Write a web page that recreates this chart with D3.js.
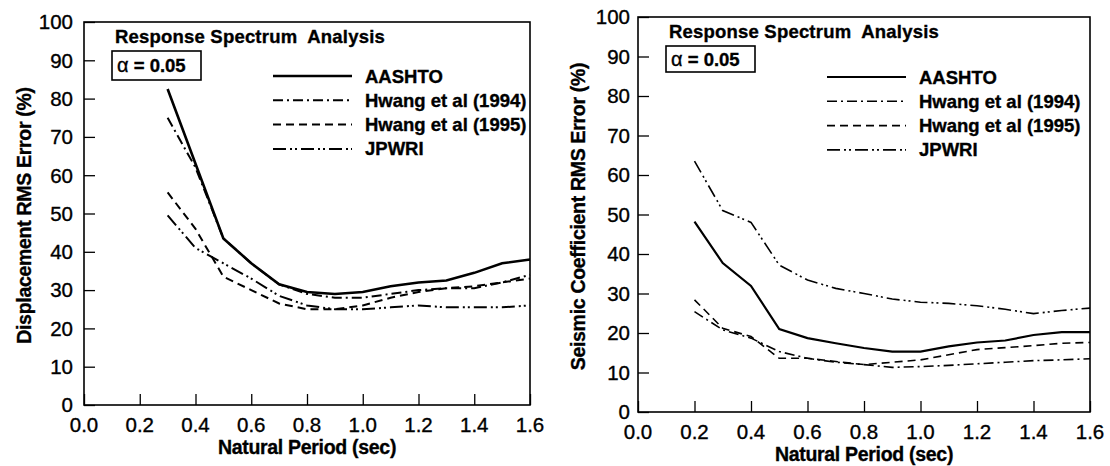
<!DOCTYPE html>
<html>
<head>
<meta charset="utf-8">
<script src="https://cdn.jsdelivr.net/npm/d3@7"></script>
<style>
  body { margin: 0; background: #fff; }
  svg { display: block; font-family: "Liberation Sans", Arial, sans-serif; }
  text { stroke: #000; stroke-width: 0.35px; }
</style>
</head>
<body>
<svg id="chart" width="1110" height="466"></svg>
<script>
const seriesNames = ["AASHTO", "Hwang et al (1994)", "Hwang et al (1995)", "JPWRI"];
const xTicks = [0.0, 0.2, 0.4, 0.6, 0.8, 1.0, 1.2, 1.4, 1.6];
const yTicks = [0, 10, 20, 30, 40, 50, 60, 70, 80, 90, 100];

// displacement panel
const periodsDisp = [0.3, 0.4, 0.5, 0.6, 0.7, 0.8, 0.9, 1.0, 1.1, 1.2, 1.3, 1.4, 1.5, 1.6];
const dispAashto = [82.5, 63, 43.5, 37, 31.5, 29.5, 29, 29.5, 31, 32, 32.5, 34.5, 37, 38];
const dispHwang94 = [75, 62, 43.5, 37, 31.5, 29, 28, 28, 29, 30, 30.5, 30.5, 32, 34];
const dispHwang95 = [55.5, 46, 33.5, 30, 26.5, 25, 25, 26, 28, 29.5, 30.5, 31, 32, 33];
const dispJpwri = [49.5, 41, 37, 33, 28.5, 26, 25, 25, 25.5, 26, 25.5, 25.5, 25.5, 26];

// seismic coefficient panel
const periodsSeis = [0.2, 0.3, 0.4, 0.5, 0.6, 0.7, 0.8, 0.9, 1.0, 1.1, 1.2, 1.3, 1.4, 1.5, 1.6];
const seisAashto = [48.2, 37.7, 31.9, 21, 18.7, 17.4, 16.2, 15.3, 15.3, 16.6, 17.6, 18.1, 19.5, 20.2, 20.2];
const seisHwang94 = [25.4, 20.8, 18.7, 15.3, 13.6, 12.6, 12, 11.3, 11.5, 11.8, 12.2, 12.6, 13, 13.2, 13.5];
const seisHwang95 = [28.4, 21.2, 19.1, 13.6, 13.6, 12.8, 12, 12.6, 13.2, 14.5, 15.8, 16.3, 16.8, 17.4, 17.6];
const seisJpwri = [63.5, 51, 48, 37.2, 33.4, 31.3, 30, 28.6, 27.8, 27.5, 26.9, 26, 24.9, 25.7, 26.3];

const dashes = [null, "10,4,2,4", "8,5", "13,4,2,3,2,4"];

const svg = d3.select("#chart");

function drawPanel(opts) {
    const { left, right, top, bottom, periods, series, yLabel, lineWidth, labelGap, legendTop, boxH } = opts;

    const x = d3.scaleLinear().domain([0, 1.6]).range([left, right]);
    const y = d3.scaleLinear().domain([0, 100]).range([bottom, top]);

    const g = svg.append("g");

    // frame
    g.append("rect")
        .attr("x", left)
        .attr("y", top)
        .attr("width", right - left)
        .attr("height", bottom - top)
        .attr("fill", "none")
        .attr("stroke", "#000")
        .attr("stroke-width", 1.6);

    // inward ticks
    const yAxis = g.append("g")
        .attr("transform", `translate(${left},0)`)
        .call(d3.axisRight(y).tickValues(yTicks).tickSize(11).tickFormat(""));
    yAxis.select(".domain").remove();
    yAxis.selectAll("line").attr("stroke-width", 1.3);

    const xAxis = g.append("g")
        .attr("transform", `translate(0,${bottom})`)
        .call(d3.axisTop(x).tickValues(xTicks).tickSize(11).tickFormat(""));
    xAxis.select(".domain").remove();
    xAxis.selectAll("line").attr("stroke-width", 1.3);

    // tick labels
    g.selectAll(".ylab")
        .data(yTicks)
        .join("text")
        .attr("x", left - labelGap)
        .attr("y", d => y(d))
        .attr("dy", "0.36em")
        .attr("text-anchor", "end")
        .attr("font-size", 20.5)
        .text(d => d);

    g.selectAll(".xlab")
        .data(xTicks)
        .join("text")
        .attr("x", d => x(d))
        .attr("y", bottom + 27)
        .attr("text-anchor", "middle")
        .attr("font-size", 20.5)
        .text(d => d.toFixed(1));

    // axis titles
    g.append("text")
        .attr("x", (left + right) / 2)
        .attr("y", bottom + 49)
        .attr("text-anchor", "middle")
        .attr("font-size", 19.5)
        .attr("font-weight", "bold")
        .attr("letter-spacing", -0.3)
        .text("Natural Period (sec)");

    g.append("text")
        .attr("transform", `translate(${left - 53},${(top + bottom) / 2 + 2}) rotate(-90)`)
        .attr("text-anchor", "middle")
        .attr("font-size", 19.5)
        .attr("font-weight", "bold")
        .attr("letter-spacing", -0.3)
        .text(yLabel);

    // curves
    const line = d3.line()
        .x(d => x(d[0]))
        .y(d => y(d[1]));

    series.forEach((vals, i) => {
        g.append("path")
            .datum(periods.map((p, j) => [p, vals[j]]))
            .attr("fill", "none")
            .attr("stroke", "#000")
            .attr("stroke-width", i === 0 ? lineWidth + 0.6 : lineWidth)
            .attr("stroke-dasharray", dashes[i])
            .attr("d", line);
    });

    // annotation
    g.append("text")
        .attr("x", left + 31)
        .attr("y", top + 21)
        .attr("font-size", 18.5)
        .attr("font-weight", "bold")
        .attr("letter-spacing", 0.2)
        .attr("xml:space", "preserve")
        .text("Response Spectrum  Analysis");

    g.append("rect")
        .attr("x", left + 28)
        .attr("y", top + 29)
        .attr("width", 89)
        .attr("height", boxH)
        .attr("fill", "none")
        .attr("stroke", "#000")
        .attr("stroke-width", 1.6);

    const alpha = g.append("text")
        .attr("x", left + 33)
        .attr("y", top + 29 + boxH / 2 + 6.5)
        .attr("font-size", 20);
    alpha.append("tspan").text("α");
    alpha.append("tspan").attr("font-weight", "bold").attr("font-size", 18.5).text(" = 0.05");

    // legend
    seriesNames.forEach((name, i) => {
        const ly = legendTop + i * 24.3;
        g.append("line")
            .attr("x1", left + 189)
            .attr("x2", left + 268)
            .attr("y1", ly)
            .attr("y2", ly)
            .attr("stroke", "#000")
            .attr("stroke-width", i === 0 ? lineWidth + 0.6 : lineWidth)
            .attr("stroke-dasharray", dashes[i]);
        g.append("text")
            .attr("x", left + 281)
            .attr("y", ly + 6.5)
            .attr("font-size", 18.5)
            .attr("font-weight", "bold")
            .attr("letter-spacing", 0)
            .text(name);
    });
}

drawPanel({
    left: 84, right: 530, top: 22, bottom: 405,
    periods: periodsDisp,
    series: [dispAashto, dispHwang94, dispHwang95, dispJpwri],
    yLabel: "Displacement RMS Error (%)",
    lineWidth: 2, labelGap: 11, legendTop: 76, boxH: 29
});

drawPanel({
    left: 638, right: 1090, top: 17, bottom: 412,
    periods: periodsSeis,
    series: [seisAashto, seisHwang94, seisHwang95, seisJpwri],
    yLabel: "Seismic Coefficient RMS Error (%)",
    lineWidth: 1.6, labelGap: 8, legendTop: 77, boxH: 26
});
</script>
</body>
</html>
